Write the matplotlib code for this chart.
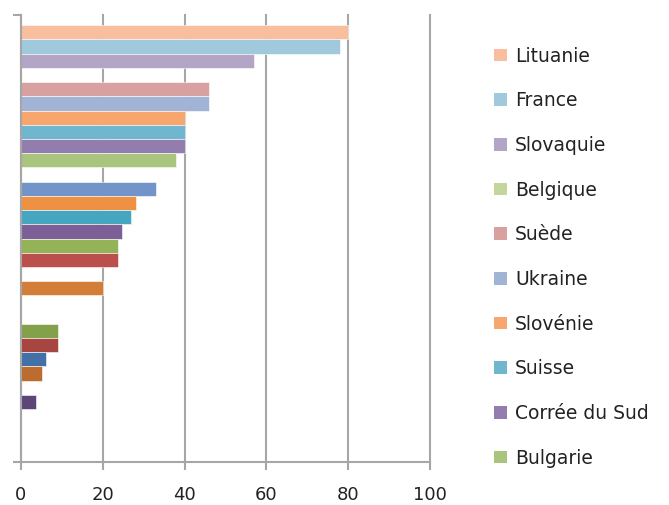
import matplotlib

matplotlib.use("Agg")
import matplotlib.pyplot as plt
from matplotlib.patches import Patch

# One category, 30 series (Excel-style clustered bar). Listed top to bottom.
# Zero = series without a bar (empty slot).
values = [80, 78, 57, 0, 46, 46, 40, 40, 40, 38,
          0, 33, 28, 27, 24.7, 23.7, 23.7, 0, 20, 0,
          0, 9, 9, 6, 5.1, 0, 3.6, 0, 0, 0]

colors = ["#F8BE9E", "#A0C9DB", "#B2A5C5", "#C3D69B", "#D8A09F", "#A2B4D6",
          "#F7A66E", "#6FB6CE", "#937DAE", "#A9C47C",
          "#D99694", "#7394C8", "#EE9143", "#46A6C0", "#7D5F98", "#94B256",
          "#BA4F4B", "#4F81BD", "#D27E38", "#31859C", "#604A7B", "#83A14B",
          "#A74541", "#4470A8", "#BC6C2E", "#4BACC6", "#5C4679", "#9BBB59",
          "#C0504D", "#4F81BD"]

legend_labels = ["Lituanie", "France", "Slovaquie", "Belgique", "Suède",
                 "Ukraine", "Slovénie", "Suisse", "Corrée du Sud", "Bulgarie"]

x_ticks = [0, 20, 40, 60, 80, 100]

GRID = "#A6A6A6"

fig = plt.figure(figsize=(6.69, 5.05), dpi=100)
ax = fig.add_axes([21 / 669, 1 - 462 / 505, 409 / 669, 447 / 505])

n = len(values)
ypos = [n - 1 - i for i in range(n)]
ax.barh(ypos, values, height=1.0, color=colors, edgecolor="white",
        linewidth=0.4, zorder=2)

ax.set_xlim(0, 100)
ax.set_ylim(-0.5 - 0.72, n - 0.5 + 0.72)
ax.set_xticks(x_ticks)
ax.set_xticklabels([str(t) for t in x_ticks], fontsize=13, color="#222222")
ax.set_yticks([ax.get_ylim()[0], ax.get_ylim()[1]])
ax.set_yticklabels([])
ax.tick_params(axis="x", length=6, width=1.5, color=GRID, pad=11)
ax.tick_params(axis="y", length=6, width=1.5, color=GRID, direction="out")
ax.grid(axis="x", color=GRID, lw=1.5, zorder=1)
for gl in ax.get_xgridlines():
    gl.set_clip_on(False)

for side in ("top", "right"):
    ax.spines[side].set_visible(False)
for side in ("left", "bottom"):
    ax.spines[side].set_color(GRID)
    ax.spines[side].set_linewidth(1.5)
ax.spines["bottom"].set_zorder(3)
ax.spines["left"].set_zorder(3)

handles = [Patch(facecolor=colors[i], edgecolor="none", label=lab)
           for i, lab in enumerate(legend_labels)]
fig.legend(handles=handles, loc="upper left",
           bbox_to_anchor=(487 / 669, 1 - 39 / 505), frameon=False,
           fontsize=13.5, handlelength=0.65, handleheight=0.65, handletextpad=0.45,
           labelspacing=1.37, borderaxespad=0, labelcolor="#222222")

fig.savefig("out.png", dpi=100, facecolor="white")
